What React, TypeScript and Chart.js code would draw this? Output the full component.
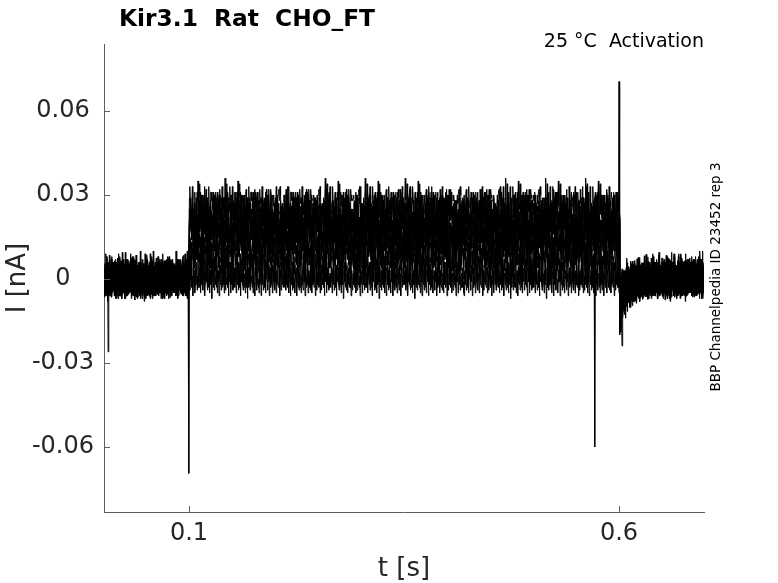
import { useEffect, useRef } from 'react';
import { Chart, registerables } from 'chart.js';

Chart.register(...registerables);

// ---------- texts ----------
const TITLE = 'Kir3.1  Rat  CHO_FT';
const SUBTITLE = '25 °C  Activation';
const SIDE_NOTE = 'BBP Channelpedia ID 23452 rep 3';
const X_LABEL = 't [s]';
const Y_LABEL = 'I [nA]';

// ---------- axes ----------
const X_TICKS = [0.1, 0.6];
const X_TICK_LABELS = ['0.1', '0.6'];
const Y_TICKS = [-0.06, -0.03, 0, 0.03, 0.06];
const Y_TICK_LABELS = ['-0.06', '-0.03', '0', '0.03', '0.06'];
const X_MIN = 0.0012;
const X_MAX = 0.6988;
const Y_MIN = -0.0832;
const Y_MAX = 0.0839;

// ---------- protocol (s) ----------
const SAMPLE_DT = 0.0005;
const DURATION = 0.7;
const STEP_ON = 0.1;
const STEP_OFF = 0.6;

// ---------- traces (nA), one entry per sweep ----------
const HOLD_LEVELS = [0.001, 0.0, -0.001, 0.0005, 0.0, 0.001, -0.0005, 0.0, 0.0005, -0.001, 0.0];
const STEP_LEVELS = [0.0, 0.004, 0.008, 0.011, 0.014, 0.016, 0.018, 0.02, 0.022, 0.024, 0.027];
const TAIL_DEPTHS = [-0.003, -0.004, -0.005, -0.006, -0.007, -0.008, -0.009, -0.01, -0.011, -0.012, -0.014];
// relative tail decay after the step, in 2 ms bins starting at STEP_OFF
const TAIL_BIN = 0.002;
const TAIL_SHAPE = [1.0, 0.8, 0.62, 0.5, 0.4, 0.32, 0.26, 0.21, 0.17, 0.14, 0.11, 0.09, 0.07, 0.05, 0.04, 0.03, 0.02, 0.01];

// recording noise (pA), read as the band width around each sweep
const NOISE_PA = [
  2, -3, 4, -1, -5, 3, 1, -2, 6, -4,
  0, 3, -3, 5, -6, 2, 1, -1, 4, -2,
  -4, 7, -3, 0, 2, -5, 3, -2, 1, 5,
  -7, 2, 4, -3, -1, 3, -4, 8, -2, 0,
  1, -3, 5, -5, 2, 3, -1, -6, 4, 1,
  -2, 3, -4, 2, 6, -3, 0, -5, 3, 2,
  -1, 4, -6, 1, 3, -2, 5, -4, -1, 2,
  -3, 7, -5, 1, 0, 3, -2, -4, 5, -1,
  2, -6, 3, 4, -3, 1, -2, 9, -5, 0,
  3, -1, -3, 6, -4, 2, 1, -5, 3, -2,
  4, -1, -3, 2, 5, -6, 1, 3, -4, 0,
  2, -2, 6, -3, -1, 4, -5, 2, 1, -4,
  3, 0, -2, 5, -3, 1, -6, 4, 2, -1,
  3, -5, 0, 4, -2, 6, -4, 1, -3, 2,
];
const NOISE_STRIDES = [1, 3, 9, 11, 13, 17, 19, 23, 27, 29, 31];
const NOISE_OFFSETS = [0, 37, 71, 12, 95, 58, 24, 110, 83, 46, 129];
const NOISE_BLOCK_SHIFT = 57;

// capacitive / artefact transients: sweep index, time (s), current (nA)
const TRANSIENT_TRACE = [0, 3, 7, 10, 10, 6];
const TRANSIENT_TIME = [0.006, 0.1, 0.572, 0.6, 0.6035, 0.602];
const TRANSIENT_VALUE = [-0.026, -0.0694, -0.06, 0.0705, -0.0239, -0.019];

// ---------- style ----------
const FONT = '"DejaVu Sans", sans-serif';
const AXIS_COLOR = '#5e5e5e';
const TEXT_COLOR = '#262626';

function buildTrace(k: number) {
  const n = Math.round(DURATION / SAMPLE_DT);
  const onIdx = Math.round(STEP_ON / SAMPLE_DT);
  const offIdx = Math.round(STEP_OFF / SAMPLE_DT);
  const L = NOISE_PA.length;
  const pts: { x: number; y: number }[] = [];
  for (let i = 0; i <= n; i++) {
    const t = +(i * SAMPLE_DT).toFixed(5);
    let base = HOLD_LEVELS[k];
    if (i > onIdx && i <= offIdx) base = STEP_LEVELS[k];
    else if (i > offIdx) {
      const j = Math.floor((t - STEP_OFF - 1e-9) / TAIL_BIN);
      if (j < TAIL_SHAPE.length) base = HOLD_LEVELS[k] + TAIL_DEPTHS[k] * TAIL_SHAPE[j];
    }
    const idx = (i * NOISE_STRIDES[k] + NOISE_OFFSETS[k] + Math.floor(i / L) * NOISE_BLOCK_SHIFT) % L;
    pts.push({ x: t, y: base + NOISE_PA[idx] * 0.001 });
  }
  TRANSIENT_TRACE.forEach((tr, m) => {
    if (tr !== k) return;
    const idx = Math.round(TRANSIENT_TIME[m] / SAMPLE_DT);
    pts[idx] = { x: pts[idx].x, y: TRANSIENT_VALUE[m] };
  });
  return pts;
}

const decorPlugin = {
  id: 'decor',
  afterDraw(chart: any) {
    const { ctx, chartArea, scales } = chart;
    const xs = scales.x;
    const ys = scales.y;
    ctx.save();
    // inward tick marks
    ctx.strokeStyle = AXIS_COLOR;
    ctx.lineWidth = 1;
    ctx.beginPath();
    X_TICKS.forEach((v) => {
      const px = Math.round(xs.getPixelForValue(v)) + 0.5;
      ctx.moveTo(px, chartArea.bottom);
      ctx.lineTo(px, chartArea.bottom - 6);
    });
    Y_TICKS.forEach((v) => {
      const py = Math.round(ys.getPixelForValue(v)) + 0.5;
      ctx.moveTo(chartArea.left, py);
      ctx.lineTo(chartArea.left + 6, py);
    });
    ctx.stroke();

    // title
    ctx.fillStyle = '#000';
    ctx.font = `bold 23.3px ${FONT}`;
    ctx.textAlign = 'center';
    ctx.textBaseline = 'alphabetic';
    ctx.fillText(TITLE, 247, 26);

    // subtitle
    ctx.font = `19px ${FONT}`;
    ctx.textAlign = 'right';
    ctx.fillText(SUBTITLE, chartArea.right, 47);

    // x label
    ctx.fillStyle = TEXT_COLOR;
    ctx.font = `26px ${FONT}`;
    ctx.textAlign = 'center';
    ctx.fillText(X_LABEL, (chartArea.left + chartArea.right) / 2, 576);

    // y label
    ctx.save();
    ctx.translate(25, (chartArea.top + chartArea.bottom) / 2);
    ctx.rotate(-Math.PI / 2);
    ctx.textAlign = 'center';
    ctx.fillText(Y_LABEL, 0, 0);
    ctx.restore();

    // side note
    ctx.save();
    ctx.fillStyle = '#000';
    ctx.font = `13.5px ${FONT}`;
    ctx.translate(720, 277);
    ctx.rotate(-Math.PI / 2);
    ctx.textAlign = 'center';
    ctx.fillText(SIDE_NOTE, 0, 0);
    ctx.restore();

    ctx.restore();
  },
};

export default function App() {
  const ref = useRef<HTMLCanvasElement | null>(null);
  useEffect(() => {
    if (!ref.current) return;
    const datasets = STEP_LEVELS.map((_, k) => ({
      data: buildTrace(k),
      borderColor: '#000',
      borderWidth: 1,
      pointRadius: 0,
      tension: 0,
      fill: false,
    }));
    const chart = new Chart(ref.current, {
      type: 'line',
      data: { datasets },
      options: {
        animation: false,
        responsive: false,
        devicePixelRatio: 1,
        parsing: false,
        normalized: true,
        layout: { padding: { left: 0, right: 74, top: 44, bottom: 0 } },
        plugins: {
          legend: { display: false },
          tooltip: { enabled: false },
          title: { display: false },
        },
        scales: {
          x: {
            type: 'linear',
            min: X_MIN,
            max: X_MAX,
            grid: { display: false, drawTicks: false },
            border: { display: true, color: AXIS_COLOR, width: 1 },
            ticks: {
              font: { family: FONT, size: 24 },
              color: TEXT_COLOR,
              padding: 7,
              maxRotation: 0,
              autoSkip: false,
              callback: (_v: any, i: number) => X_TICK_LABELS[i],
            },
            afterBuildTicks: (s: any) => {
              s.ticks = X_TICKS.map((v) => ({ value: v }));
            },
            afterFit: (s: any) => {
              s.height = 71;
            },
          },
          y: {
            type: 'linear',
            min: Y_MIN,
            max: Y_MAX,
            grid: { display: false, drawTicks: false },
            border: { display: true, color: AXIS_COLOR, width: 1 },
            ticks: {
              font: { family: FONT, size: 24 },
              color: TEXT_COLOR,
              padding: 10,
              crossAlign: 'center',
              autoSkip: false,
              callback: (_v: any, i: number) => Y_TICK_LABELS[i],
            },
            afterBuildTicks: (s: any) => {
              s.ticks = Y_TICKS.map((v) => ({ value: v }));
            },
            afterFit: (s: any) => {
              s.width = 104;
            },
          },
        },
      },
      plugins: [decorPlugin],
    } as any);
    return () => chart.destroy();
  }, []);
  return (
    <div style={{ position: 'fixed', left: 0, top: 0, width: 778, height: 583, background: '#fff' }}>
      <canvas ref={ref} width={778} height={583} style={{ width: 778, height: 583, display: 'block' }} />
    </div>
  );
}
